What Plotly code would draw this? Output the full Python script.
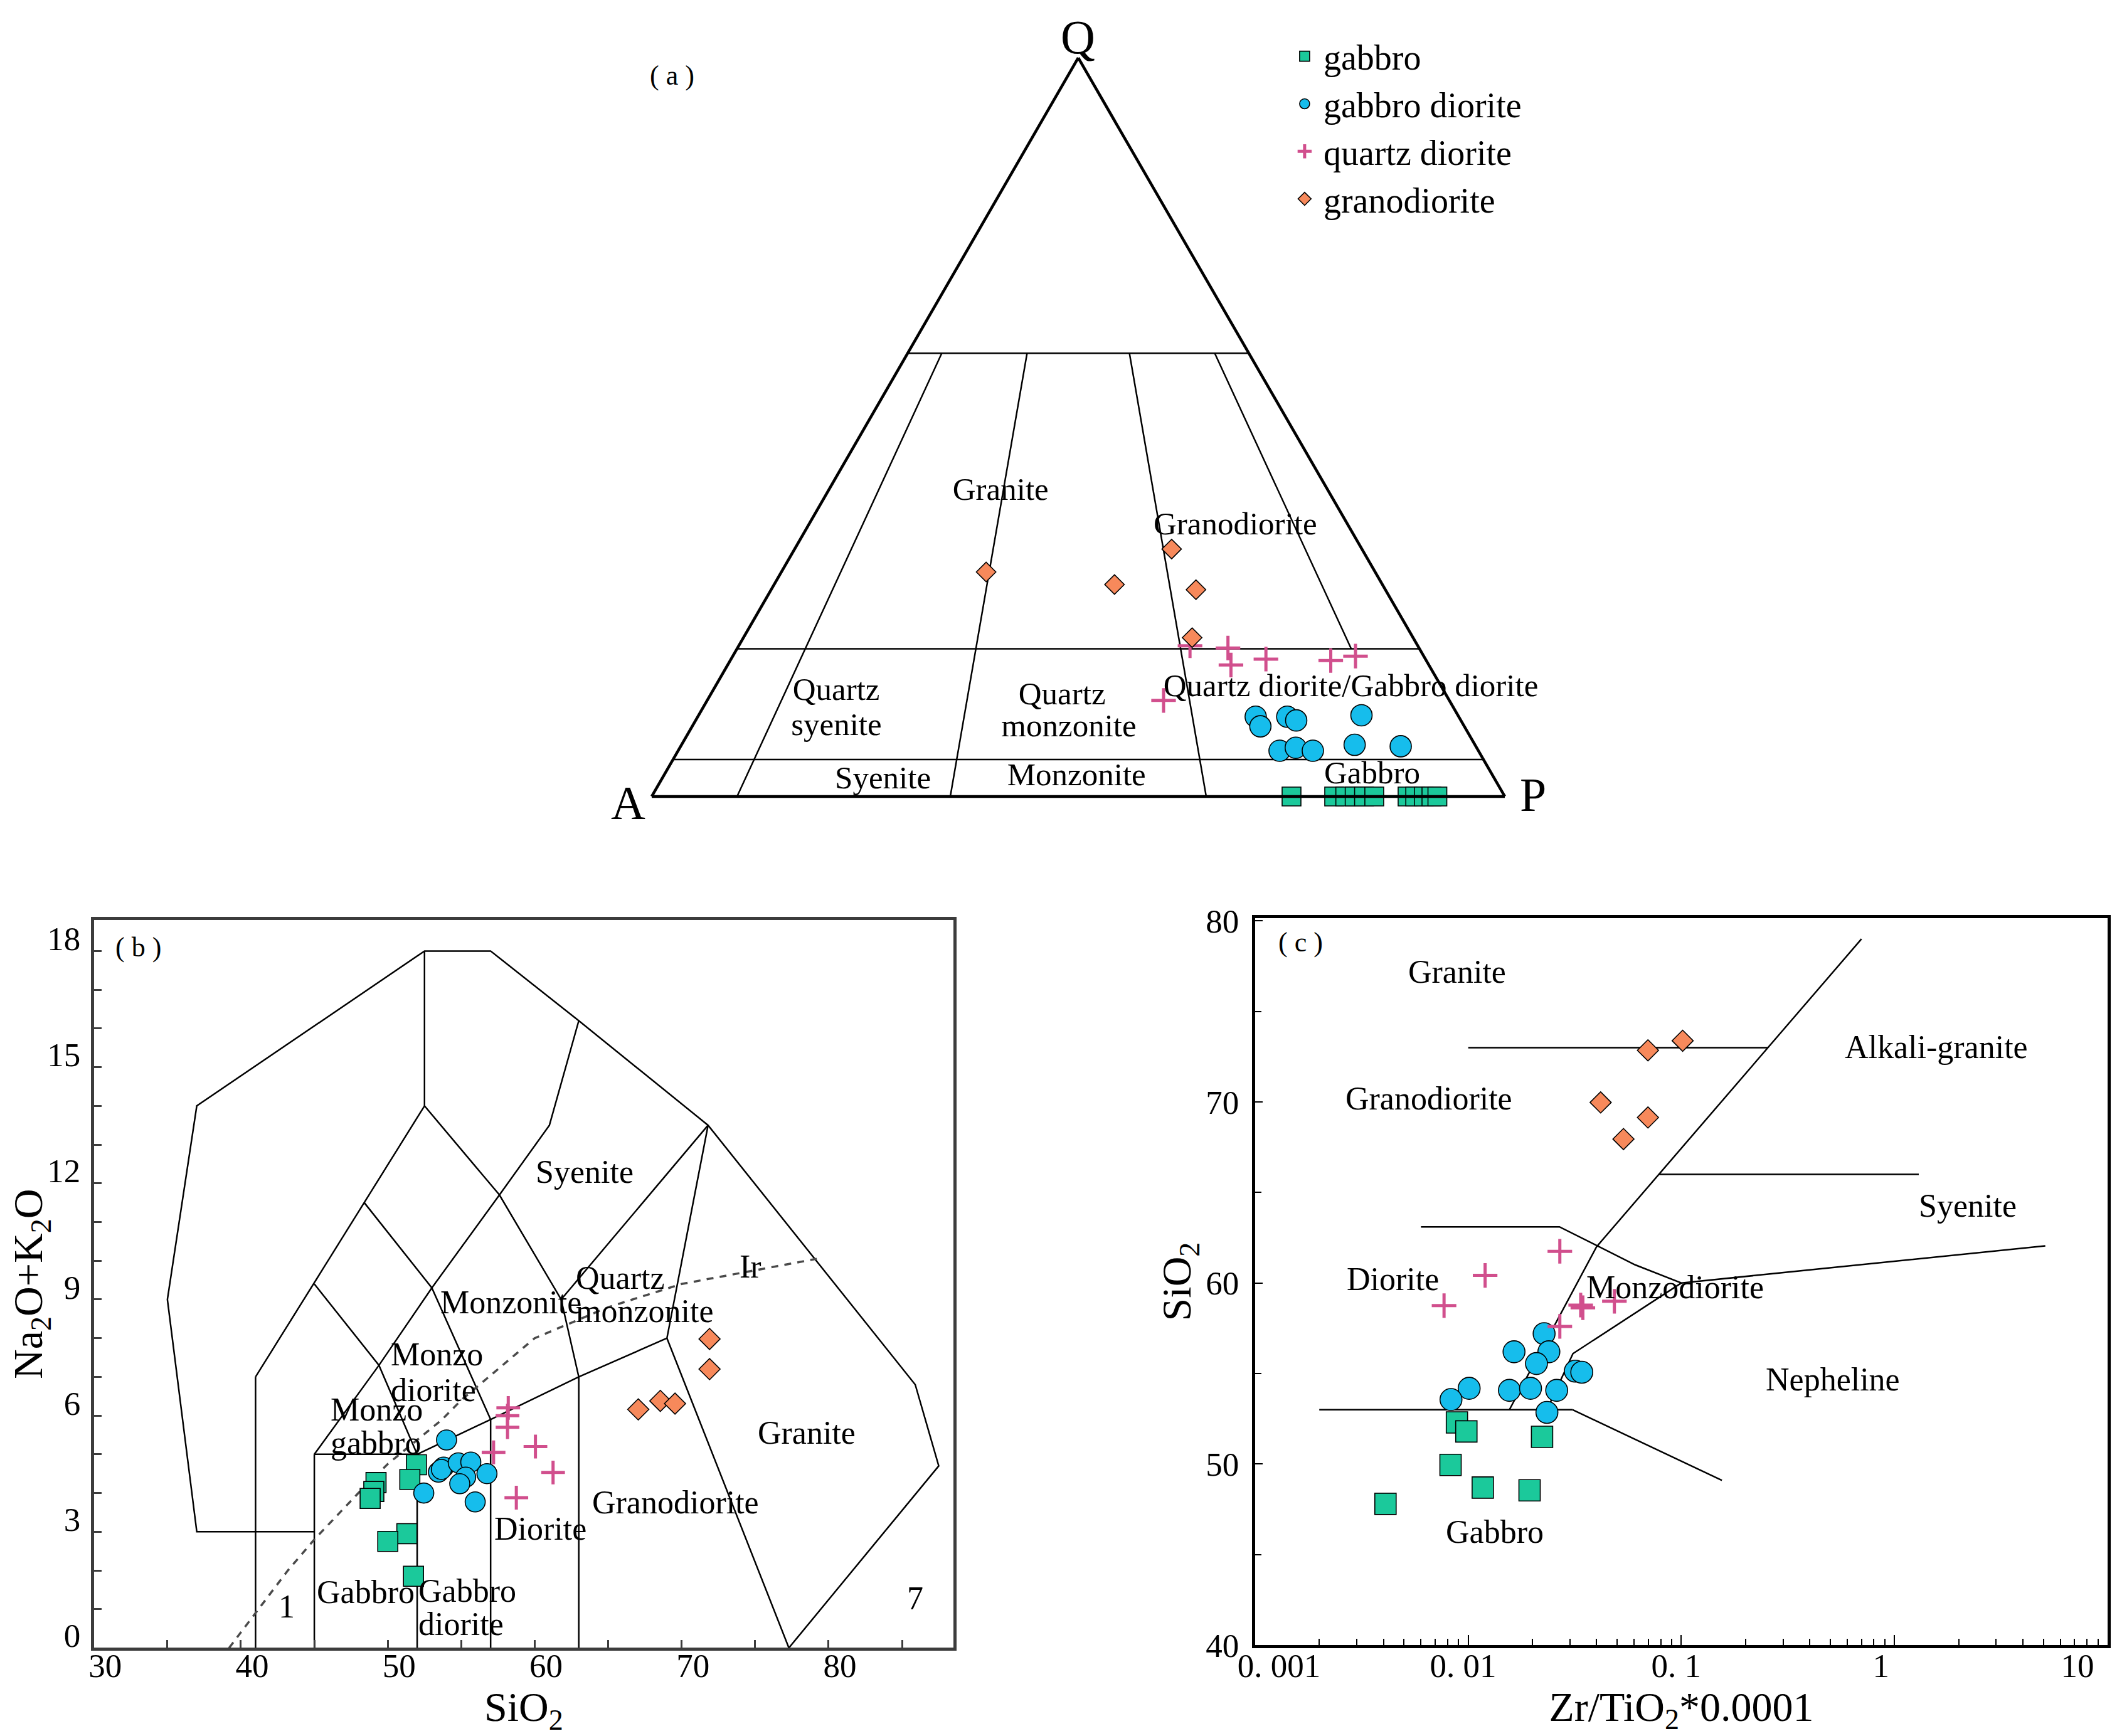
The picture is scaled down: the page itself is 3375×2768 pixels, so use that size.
import math
import plotly.graph_objects as go

FONT = "Liberation Serif, Times New Roman, serif"
NB = "\u00a0"

# ------------------------------------------------------------------
# (a) QAP ternary data  (Q, A, P in %)
# ------------------------------------------------------------------
qap_gabbro_q = [0, 0, 0, 0, 0, 0, 0, 0, 0, 0, 0]
qap_gabbro_a = [25.0, 20.0, 18.7, 17.6, 16.5, 15.3, 11.4, 10.5, 9.5, 8.6, 7.9]
qap_gabbro_p = [75.0, 80.0, 81.3, 82.4, 83.5, 84.7, 88.6, 89.5, 90.5, 91.4, 92.1]

qap_gd_q = [10.8, 9.5, 10.8, 10.3, 11.0, 6.2, 6.6, 6.2, 7.0, 6.8]
qap_gd_a = [23.8, 23.9, 20.1, 19.3, 11.3, 23.3, 21.2, 19.4, 14.1, 8.8]
qap_gd_p = [65.4, 66.6, 69.1, 70.4, 77.7, 70.5, 72.2, 74.4, 78.9, 84.4]

qap_qd_q = [20.4, 20.1, 17.8, 18.6, 18.4, 19.0, 13.0]
qap_qd_a = [26.7, 22.4, 23.2, 18.7, 11.2, 8.0, 33.5]
qap_qd_p = [52.9, 57.5, 59.0, 62.7, 70.4, 73.0, 53.5]

qap_grd_q = [30.4, 28.7, 33.5, 28.0, 21.5]
qap_grd_a = [45.6, 31.4, 22.3, 22.2, 25.9]
qap_grd_p = [24.0, 39.9, 44.2, 49.8, 52.6]

# QAP field boundaries (Q, A, P)
qap_bound_q = [[60, 60], [20, 20], [5, 5], [60, 0], [60, 0], [60, 0], [60, 20]]
qap_bound_a = [[40, 0], [80, 0], [95, 0], [36, 90], [26, 65], [14, 35], [4, 8]]
qap_bound_p = [[0, 40], [0, 80], [0, 95], [4, 10], [14, 35], [26, 65], [36, 72]]

qap_labels = ["Granite", "Granodiorite", "Quartz", "syenite", "Quartz", "monzonite",
              "Quartz diorite/Gabbro diorite", "Syenite", "Monzonite", "Gabbro"]
qap_label_q = [41.2, 36.6, 14.15, 9.4, 13.6, 9.2, 14.7, 2.2, 2.6, 2.9]
qap_label_a = [38.5, 13.3, 71.3, 73.65, 45.1, 46.5, 10.7, 71.8, 48.9, 14.1]
qap_label_p = [20.3, 50.1, 14.55, 16.95, 41.3, 44.3, 74.6, 26.0, 48.5, 83.0]

# ------------------------------------------------------------------
# (b) TAS data  (SiO2, Na2O+K2O)
# ------------------------------------------------------------------
tas_gabbro_x = [49.2, 49.05, 48.8, 51.95, 51.5, 51.3, 50.0, 51.75]
tas_gabbro_y = [4.27, 4.04, 3.86, 4.73, 4.35, 2.95, 2.75, 1.85]

tas_gd_x = [54.0, 52.45, 53.45, 53.8, 53.65, 54.8, 55.65, 55.3, 54.9, 56.75, 55.95]
tas_gd_y = [5.37, 4.0, 4.54, 4.67, 4.61, 4.78, 4.8, 4.41, 4.24, 4.5, 3.77]

tas_qd_x = [58.2, 58.15, 58.15, 57.2, 60.05, 61.25, 58.75]
tas_qd_y = [6.2, 6.0, 5.7, 5.05, 5.2, 4.53, 3.88]

tas_grd_x = [67.05, 68.55, 69.55, 71.9, 71.9]
tas_grd_y = [6.16, 6.38, 6.31, 7.98, 7.2]

# TAS (Middlemost) field boundaries
tas_bound_x = [
    [45, 37, 35, 37, 52.5, 57, 63, 71.8, 85.9, 87.5, 77.3],
    [41, 41], [45, 45], [52, 52], [57, 57], [63, 63],
    [45, 52],
    [52, 57, 63, 69, 71.8],
    [69, 77.3],
    [45, 49.4, 53, 57.6],
    [41, 52.5],
    [45, 49.4, 52],
    [48.4, 53, 57],
    [52.5, 57.6, 61.8, 63],
    [52.5, 52.5],
    [57.6, 61, 63],
    [61.8, 71.8],
]
tas_bound_y = [
    [3, 3, 9, 14, 18, 18, 16.2, 13.5, 6.8, 4.7, 0],
    [0, 7], [0, 5], [0, 5], [0, 5.9], [0, 7],
    [5, 5],
    [5, 5.9, 7, 8, 13.5],
    [8, 0],
    [5, 7.3, 9.3, 11.7],
    [7, 14],
    [9.4, 7.3, 5],
    [11.5, 9.3, 5.9],
    [14, 11.7, 9.0, 7],
    [14, 18],
    [11.7, 13.5, 16.2],
    [9.0, 13.5],
]
# Irvine & Baragar alkaline / subalkaline divide
ir_x = [39.2, 40, 43.2, 45, 48, 50, 53.7, 55, 60, 65, 70, 79.2]
ir_y = [0, 0.4, 2, 2.8, 4, 4.75, 5.9, 6.4, 8, 8.8, 9.4, 10.05]

tas_labels = ["Syenite", "Monzonite", "Diorite", "Granodiorite", "Granite", "Gabbro", "Ir", "1", "7"]
tas_label_x = [63.4, 58.4, 60.4, 69.6, 78.5, 48.5, 74.7, 43.1, 85.9]
tas_label_y = [12.14, 8.77, 2.92, 3.59, 5.39, 1.28, 9.68, 0.9, 1.11]
tas_labels_left = ["Quartz", "monzonite", "Monzo", "diorite", "Monzo", "gabbro", "Gabbro", "diorite"]
tas_left_x = [62.7, 62.7, 50.1, 50.1, 46.0, 46.0, 52.0, 52.0]
tas_left_y = [9.4, 8.54, 7.42, 6.5, 5.99, 5.13, 1.32, 0.45]

# ------------------------------------------------------------------
# (c) Zr/TiO2 - SiO2 data
# ------------------------------------------------------------------
zr_gabbro_x = [0.00885, 0.0098, 0.0222, 0.00826, 0.0117, 0.0194, 0.00409]
zr_gabbro_y = [52.3, 51.8, 51.5, 49.95, 48.7, 48.55, 47.8]

zr_gd_x = [0.0227, 0.0164, 0.0239, 0.0209, 0.0318, 0.0341, 0.0101, 0.0083, 0.0156, 0.0196, 0.026, 0.0234]
zr_gd_y = [57.2, 56.2, 56.2, 55.55, 55.13, 55.07, 54.18, 53.56, 54.07, 54.18, 54.07, 52.85]

zr_qd_x = [0.0269, 0.012, 0.0077, 0.0337, 0.0345, 0.0485, 0.0269]
zr_qd_y = [61.75, 60.42, 58.75, 58.78, 58.63, 58.99, 57.6]

zr_grd_x = [0.0697, 0.1014, 0.0418, 0.0697, 0.0535]
zr_grd_y = [72.85, 73.38, 69.97, 69.14, 67.95]

zr_bound_x = [
    [0.002, 0.0308],
    [0.0308, 0.155],
    [0.0156, 0.04, 0.7],
    [0.01, 0.2547],
    [0.0784, 1.3],
    [0.006, 0.0268, 0.0607, 0.1, 5.1],
    [0.1, 0.031, 0.0234],
]
zr_bound_y = [
    [53, 53],
    [53, 49.1],
    [53, 62, 79],
    [73, 73],
    [66, 66],
    [63.1, 63.1, 61.0, 60.0, 62.05],
    [60, 56.1, 53],
]
zr_labels = ["Granite", "Alkali-granite", "Granodiorite", "Syenite", "Diorite",
             "Monzodiorite", "Nepheline", "Gabbro"]
zr_label_x = [0.00885, 1.567, 0.00652, 2.2, 0.00442, 0.0933, 0.513, 0.0133]
zr_label_y = [76.8, 72.64, 69.82, 63.89, 59.82, 59.38, 54.3, 45.88]

zr_tickvals = [0.001, 0.01, 0.1, 1, 10]
zr_ticktext = [NB * 13 + "0. 001", NB * 6 + "0. 01", NB * 6 + "0. 1", NB * 4 + "1", "10"]

# ------------------------------------------------------------------
# styles
# ------------------------------------------------------------------
SERIES = ["gabbro", "gabbro diorite", "quartz diorite", "granodiorite"]
FILL = {"gabbro": "#1BC99B", "gabbro diorite": "#16BDEC",
        "quartz diorite": "#D14F8D", "granodiorite": "#F7895B"}
SYM = {"gabbro": "square", "gabbro diorite": "circle",
       "quartz diorite": "cross-thin", "granodiorite": "diamond"}


def marker(name, size):
    if name == "quartz diorite":
        return dict(symbol=SYM[name], size=size, color=FILL[name],
                    line=dict(color=FILL[name], width=5))
    return dict(symbol=SYM[name], size=size, color=FILL[name],
                line=dict(color="black", width=1.6))


fig = go.Figure()

# ---------------- (a) ternary ----------------
for qa, aa, pa in zip(qap_bound_q, qap_bound_a, qap_bound_p):
    fig.add_trace(go.Scatterternary(a=qa, b=aa, c=pa, mode="lines",
                                    line=dict(color="black", width=2.5),
                                    showlegend=False, hoverinfo="skip", cliponaxis=False))

fig.add_trace(go.Scatterternary(a=qap_label_q, b=qap_label_a, c=qap_label_p, mode="text",
                                text=qap_labels, textposition="middle center",
                                textfont=dict(family=FONT, size=51, color="black"),
                                showlegend=False, hoverinfo="skip", cliponaxis=False))

qap_sets = {
    "gabbro": (qap_gabbro_q, qap_gabbro_a, qap_gabbro_p, 30),
    "gabbro diorite": (qap_gd_q, qap_gd_a, qap_gd_p, 34),
    "quartz diorite": (qap_qd_q, qap_qd_a, qap_qd_p, 28),
    "granodiorite": (qap_grd_q, qap_grd_a, qap_grd_p, 24),
}
for name in SERIES:
    q, a, p, s = qap_sets[name]
    fig.add_trace(go.Scatterternary(a=q, b=a, c=p, mode="markers", name=name,
                                    marker=marker(name, s), showlegend=True,
                                    legendgroup=name, cliponaxis=False))

# ---------------- (b) TAS ----------------
for bx, by in zip(tas_bound_x, tas_bound_y):
    fig.add_trace(go.Scatter(x=bx, y=by, mode="lines", xaxis="x", yaxis="y",
                             line=dict(color="black", width=2.5),
                             showlegend=False, hoverinfo="skip"))
fig.add_trace(go.Scatter(x=ir_x, y=ir_y, mode="lines", xaxis="x", yaxis="y",
                         line=dict(color="#4a4a4a", width=3.5, dash="11px,10px"),
                         showlegend=False, hoverinfo="skip"))

tas_sets = {
    "gabbro": (tas_gabbro_x, tas_gabbro_y, 32),
    "gabbro diorite": (tas_gd_x, tas_gd_y, 32),
    "quartz diorite": (tas_qd_x, tas_qd_y, 27),
    "granodiorite": (tas_grd_x, tas_grd_y, 26),
}
for name in SERIES:
    x, y, s = tas_sets[name]
    fig.add_trace(go.Scatter(x=x, y=y, mode="markers", name=name, xaxis="x", yaxis="y",
                             marker=marker(name, s), showlegend=False, legendgroup=name))

# ---------------- (c) Zr/TiO2 ----------------
for bx, by in zip(zr_bound_x, zr_bound_y):
    fig.add_trace(go.Scatter(x=bx, y=by, mode="lines", xaxis="x2", yaxis="y2",
                             line=dict(color="black", width=2.5),
                             showlegend=False, hoverinfo="skip"))

zr_sets = {
    "gabbro": (zr_gabbro_x, zr_gabbro_y, 34),
    "gabbro diorite": (zr_gd_x, zr_gd_y, 35),
    "quartz diorite": (zr_qd_x, zr_qd_y, 28),
    "granodiorite": (zr_grd_x, zr_grd_y, 26),
}
for name in SERIES:
    x, y, s = zr_sets[name]
    fig.add_trace(go.Scatter(x=x, y=y, mode="markers", name=name, xaxis="x2", yaxis="y2",
                             marker=marker(name, s), showlegend=False, legendgroup=name))

# ---------------- annotations ----------------
ann = []
LBL = dict(family=FONT, size=52, color="black")
TAG = dict(family=FONT, size=44, color="black")


def note(text, x, y, xref, yref, font, xanchor="center", yshift=0):
    return dict(text=text, x=x, y=y, xref=xref, yref=yref, showarrow=False, font=font,
                xanchor=xanchor, yanchor="middle", yshift=yshift,
                align=xanchor if xanchor != "center" else "center")


for t, x, y in zip(tas_labels, tas_label_x, tas_label_y):
    ann.append(note(t, x, y, "x", "y", LBL, yshift=10))
for t, x, y in zip(tas_labels_left, tas_left_x, tas_left_y):
    ann.append(note(t, x, y, "x", "y", LBL, xanchor="left", yshift=10))
ann.append(note("( b )", 33.0, 18.0, "x", "y", TAG, yshift=6))
for t, x, y in zip(zr_labels, zr_label_x, zr_label_y):
    ann.append(note(t, math.log10(x), y, "x2", "y2", LBL, yshift=11))
ann.append(note("( c )", math.log10(0.00164), 78.6, "x2", "y2", TAG, yshift=6))
# ternary corner letters and panel tag
ann.append(note("Q", 0.5068, 0.9814, "paper", "paper", dict(family=FONT, size=76, color="black")))
ann.append(note("A", 0.2945, 0.5405, "paper", "paper", dict(family=FONT, size=76, color="black")))
ann.append(note("P", 0.7218, 0.5450, "paper", "paper", dict(family=FONT, size=76, color="black")))
ann.append(note("( a )", 0.3150, 0.9595, "paper", "paper", TAG))

TERN_AX = dict(showline=True, linecolor="black", linewidth=4.5, showgrid=False,
               showticklabels=False, ticks="", title=dict(text=""))

FRAME_B = "#3c3c3c"
TICKF = dict(family=FONT, size=53, color="black")
TITLEF = dict(family=FONT, size=66, color="black")

minor_log = [k * 10.0 ** e for e in (-3, -2, -1, 0) for k in range(2, 10)]

fig.update_layout(
    width=3375, height=2768,
    margin=dict(l=0, r=0, t=0, b=0),
    paper_bgcolor="white", plot_bgcolor="white",
    font=dict(family=FONT, color="black"),
    ternary=dict(domain=dict(x=[0.30548, 0.70844], y=[0.54408, 0.96958]), sum=100,
                 bgcolor="white", aaxis=TERN_AX, baxis=TERN_AX, caxis=TERN_AX),
    xaxis=dict(domain=[0.0420, 0.4480], anchor="y", range=[30, 88.5],
               tick0=30, dtick=10, ticks="inside", ticklen=12, tickwidth=2.5, tickcolor=FRAME_B,
               minor=dict(tick0=30, dtick=5, ticks="inside", ticklen=12, tickwidth=2.5,
                          tickcolor=FRAME_B),
               showline=True, mirror=True, linewidth=5, linecolor=FRAME_B,
               showgrid=False, zeroline=False, tickfont=TICKF, ticklabelshift=18,
               ticklabelstandoff=-22, automargin=False,
               title=dict(text="SiO<sub>2</sub>", font=TITLEF, standoff=0)),
    yaxis=dict(domain=[0.05365, 0.4729], anchor="x", range=[0, 18.8],
               tick0=0, dtick=3, ticks="inside", ticklen=12, tickwidth=2.5, tickcolor=FRAME_B,
               minor=dict(tick0=0, dtick=1, ticks="inside", ticklen=12, tickwidth=2.5,
                          tickcolor=FRAME_B),
               showline=True, mirror=True, linewidth=5, linecolor=FRAME_B,
               showgrid=False, zeroline=False, tickfont=TICKF, ticklabelshift=-20,
               ticklabelstandoff=6, automargin=False,
               title=dict(text="Na<sub>2</sub>O+K<sub>2</sub>O", font=TITLEF, standoff=6)),
    xaxis2=dict(domain=[0.5905, 0.9932], anchor="y2", type="log", range=[-3, 1],
                tickmode="array", tickvals=zr_tickvals, ticktext=zr_ticktext,
                ticks="inside", ticklen=16, tickwidth=2, tickcolor="black",
                minor=dict(tickmode="array", tickvals=minor_log, ticks="inside",
                           ticklen=10, tickwidth=2, tickcolor="black"),
                showline=True, mirror=True, linewidth=5, linecolor="black",
                showgrid=False, zeroline=False, tickfont=TICKF, ticklabelshift=-48,
                ticklabelstandoff=-18, automargin=False,
                title=dict(text="Zr/TiO<sub>2</sub>*0.0001", font=TITLEF, standoff=0)),
    yaxis2=dict(domain=[0.05527, 0.4740], anchor="x2", range=[40, 80.15],
                tick0=40, dtick=10, ticks="inside", ticklen=12, tickwidth=2, tickcolor="black",
                minor=dict(tick0=40, dtick=5, ticks="inside", ticklen=10, tickwidth=2,
                           tickcolor="black"),
                showline=True, mirror=True, linewidth=5, linecolor="black",
                showgrid=False, zeroline=False, tickfont=TICKF,
                ticklabelstandoff=10, automargin=False,
                title=dict(text="SiO<sub>2</sub>", font=TITLEF, standoff=4)),
    legend=dict(x=0.6050, y=0.986, xanchor="left", yanchor="top",
                font=dict(family=FONT, size=56, color="black"), itemwidth=50,
                bgcolor="rgba(0,0,0,0)", tracegroupgap=0, itemsizing="trace"),
    annotations=ann,
    showlegend=True,
)

fig.write_html("out.html")
